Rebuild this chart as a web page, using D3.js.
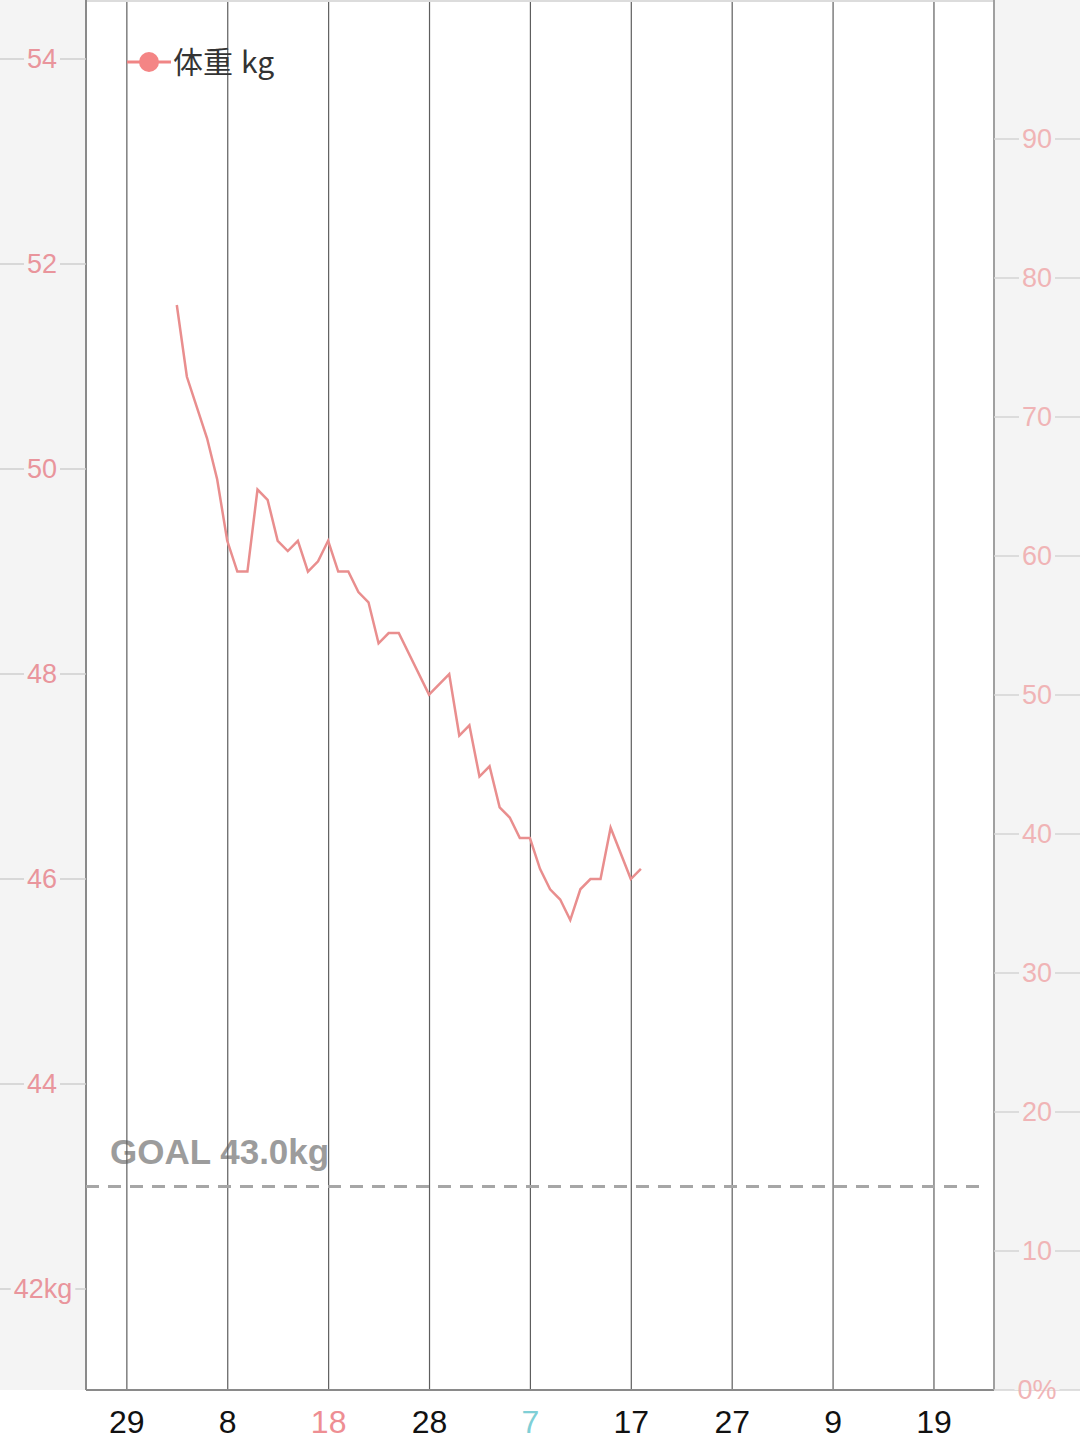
<!DOCTYPE html>
<html>
<head>
<meta charset="utf-8">
<script src="https://cdn.jsdelivr.net/npm/d3@7"></script>
<style>
  html, body { margin: 0; padding: 0; background: #fff; }
  #chart svg { display: block; }
</style>
</head>
<body>
<div id="chart"></div>
<script>
// weight log, one entry per weigh-in (some days missing)
var days = ["2015-01-03", "2015-01-04", "2015-01-05", "2015-01-06", "2015-01-07", "2015-01-08",
    "2015-01-09", "2015-01-10", "2015-01-11", "2015-01-12", "2015-01-13", "2015-01-14",
    "2015-01-15", "2015-01-16", "2015-01-17", "2015-01-18", "2015-01-19", "2015-01-20",
    "2015-01-21", "2015-01-22", "2015-01-23", "2015-01-24", "2015-01-25", "2015-01-28",
    "2015-01-30", "2015-01-31", "2015-02-01", "2015-02-02", "2015-02-03", "2015-02-04",
    "2015-02-05", "2015-02-06", "2015-02-07", "2015-02-08", "2015-02-09", "2015-02-10",
    "2015-02-11", "2015-02-12", "2015-02-13", "2015-02-14", "2015-02-15", "2015-02-17",
    "2015-02-18"];
var weights = [51.6, 50.9, 50.6, 50.3, 49.9, 49.3,
    49.0, 49.0, 49.8, 49.7, 49.3, 49.2,
    49.3, 49.0, 49.1, 49.3, 49.0, 49.0,
    48.8, 48.7, 48.3, 48.4, 48.4, 47.8,
    48.0, 47.4, 47.5, 47.0, 47.1, 46.7,
    46.6, 46.4, 46.4, 46.1, 45.9, 45.8,
    45.6, 45.9, 46.0, 46.0, 46.5, 46.0,
    46.1];

var goalWeight = 43.0;
var xTickDays = ["2014-12-29", "2015-01-08", "2015-01-18", "2015-01-28", "2015-02-07",
    "2015-02-17", "2015-02-27", "2015-03-09", "2015-03-19"];
var leftTicks = [42, 44, 46, 48, 50, 52, 54];
var rightTicks = [0, 10, 20, 30, 40, 50, 60, 70, 80, 90];

(function() {
    var width = 1080,
        height = 1440;
    var left = 86, right = 994, top = 0, bottom = 1390;

    var parse = d3.timeParse("%Y-%m-%d");
    var data = days.map(function(d, i) {
        return { date: parse(d), kg: weights[i] };
    });

    var svg = d3.select("#chart")
        .append("svg")
        .attr("width", width)
        .attr("height", height)
        .style("font-family", "'Liberation Sans', Arial, sans-serif");

    var x = d3.scaleTime()
        .domain([parse("2014-12-25"), parse("2015-03-25")])
        .range([left, right]);
    var y = d3.scaleLinear().domain([41.015, 54.576]).range([bottom, top]);
    var yRight = d3.scaleLinear().domain([0, 100]).range([bottom, top]);

    // side panels
    svg.append("rect").attr("x", 0).attr("y", 0).attr("width", left).attr("height", bottom).attr("fill", "#f4f4f4");
    svg.append("rect").attr("x", right).attr("y", 0).attr("width", width - right).attr("height", bottom).attr("fill", "#f4f4f4");

    // goal label goes under the grid lines
    svg.append("text")
        .attr("x", 110)
        .attr("y", y(goalWeight) - 23)
        .attr("font-size", 35)
        .attr("font-weight", "bold")
        .attr("fill", "#9c9c9c")
        .text("GOAL " + goalWeight.toFixed(1) + "kg");

    // vertical grid + x labels
    var xAxis = d3.axisBottom(x)
        .tickValues(xTickDays.map(parse))
        .tickSize(-(bottom - top))
        .tickFormat(function(d) { return d.getDate(); });

    var gx = svg.append("g")
        .attr("transform", "translate(0," + bottom + ")")
        .call(xAxis);
    gx.select(".domain").remove();
    gx.selectAll(".tick line").attr("stroke", "#5e5e5e").attr("stroke-width", 1.2);
    gx.selectAll(".tick text")
        .attr("y", 43)
        .attr("dy", 0)
        .attr("font-size", 32)
        .attr("font-family", "'Liberation Sans', Arial, sans-serif")
        .attr("fill", function(d) {
            var dow = d.getDay();
            if (dow === 0) return "#ee8e93";   // sunday
            if (dow === 6) return "#7fcfd6";   // saturday
            return "#111";
        });

    // plot frame
    svg.append("line").attr("x1", left).attr("x2", right).attr("y1", 1).attr("y2", 1).attr("stroke", "#dcdcdc").attr("stroke-width", 2);
    svg.append("line").attr("x1", left).attr("x2", right).attr("y1", bottom).attr("y2", bottom).attr("stroke", "#8a8a8a").attr("stroke-width", 2);
    svg.append("line").attr("x1", left).attr("x2", left).attr("y1", 0).attr("y2", bottom).attr("stroke", "#8a8a8a").attr("stroke-width", 2);
    svg.append("line").attr("x1", right).attr("x2", right).attr("y1", 0).attr("y2", bottom).attr("stroke", "#a0a0a0").attr("stroke-width", 2);

    // a tick line across a side panel, broken by its label
    function knockout() {
        var b = this.getBBox();
        var h = Math.min(b.height, bottom - (b.y + (+this.parentNode.getAttribute("data-y"))));
        d3.select(this.parentNode).insert("rect", "text")
            .attr("x", b.x - 3).attr("y", b.y)
            .attr("width", b.width + 6).attr("height", Math.max(0, h))
            .attr("fill", "#f4f4f4");
    }

    var gl = svg.selectAll(".ltick")
        .data(leftTicks)
        .enter()
        .append("g")
        .attr("class", "ltick")
        .attr("data-y", function(d) { return y(d); })
        .attr("transform", function(d) { return "translate(0," + y(d) + ")"; });
    gl.append("line").attr("x1", 0).attr("x2", left).attr("stroke", "#cfcfcf").attr("stroke-width", 1.5);
    gl.append("text")
        .attr("x", function(d) { return d === 42 ? 43 : 42; })
        .attr("dy", "0.35em")
        .attr("text-anchor", "middle")
        .attr("font-size", 27)
        .attr("fill", "#e9959c")
        .text(function(d) { return d === 42 ? d + "kg" : d; })
        .each(knockout);

    // right axis (percent)
    var gr = svg.selectAll(".rtick")
        .data(rightTicks)
        .enter()
        .append("g")
        .attr("class", "rtick")
        .attr("data-y", function(d) { return yRight(d); })
        .attr("transform", function(d) { return "translate(0," + yRight(d) + ")"; });
    gr.append("line").attr("x1", right).attr("x2", width).attr("stroke", "#d4d4d4").attr("stroke-width", 1.5);
    gr.append("text")
        .attr("x", 1037)
        .attr("dy", "0.35em")
        .attr("text-anchor", "middle")
        .attr("font-size", 27)
        .attr("fill", "#f0b4b6")
        .text(function(d) { return d === 0 ? "0%" : d; })
        .each(knockout);

    // goal line
    svg.append("line")
        .attr("x1", left).attr("x2", right - 6)
        .attr("y1", y(goalWeight)).attr("y2", y(goalWeight))
        .attr("stroke", "#a6a6a6")
        .attr("stroke-width", 3)
        .attr("stroke-dasharray", "13,9");

    // weight line
    var line = d3.line()
        .x(function(d) { return x(d.date); })
        .y(function(d) { return y(d.kg); });
    svg.append("path")
        .datum(data)
        .attr("d", line)
        .attr("fill", "none")
        .attr("stroke", "#e98e8e")
        .attr("stroke-width", 2.5)
        .attr("stroke-linejoin", "miter");

    // legend
    var lg = svg.append("g").attr("transform", "translate(127,62)");
    lg.append("line").attr("x1", 0).attr("x2", 44).attr("stroke", "#f08585").attr("stroke-width", 3);
    lg.append("circle").attr("cx", 22).attr("r", 10).attr("fill", "#f48585");
    lg.append("text")
        .attr("x", 46)
        .attr("dy", "0.36em")
        .attr("font-size", 30)
        .attr("font-family", "'Noto Sans CJK SC', 'Noto Sans', sans-serif")
        .attr("fill", "#333")
        .text("体重")
        .append("tspan")
        .attr("dx", 8)
        .text("kg");
})();
</script>
</body>
</html>
